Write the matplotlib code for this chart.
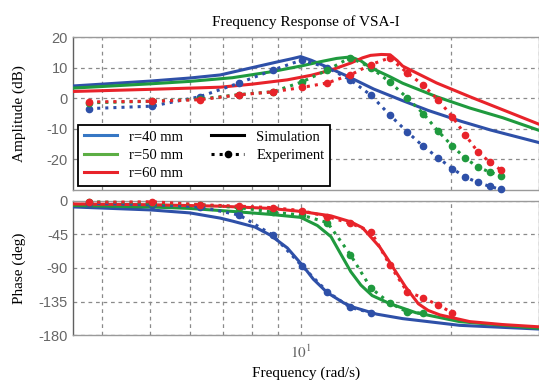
import matplotlib
matplotlib.use("Agg")
import matplotlib.pyplot as plt
from matplotlib.lines import Line2D
from matplotlib.ticker import FixedLocator, NullFormatter

# frequencies of the measured points (rad/s)
f_exp = [3.77, 5.03, 6.28, 7.54, 8.80, 10.05, 11.31, 12.57, 13.82, 15.08,
         16.34, 17.59, 18.85, 20.11, 21.36, 22.62, 23.88, 25.13]

# simulation, amplitude (dB)
f_sim_amp_40 = [3.5, 5.0, 6.0, 6.9, 8.0, 9.0, 9.6, 10.0, 10.5, 11.0, 12.4, 14.0, 16.0, 18.0, 21.0, 24.0, 30.0]
amp_sim_40 = [4.0, 5.6, 6.6, 7.6, 10.0, 11.9, 12.9, 13.6, 12.4, 11.0, 7.2, 3.0, -0.8, -4.0, -7.6, -10.4, -14.5]
f_sim_amp_50 = [3.5, 5.0, 6.0, 7.3, 8.7, 10.0, 11.0, 11.8, 12.6, 13.2, 13.8, 15.1, 16.0, 18.7, 21.8, 25.4, 30.0]
amp_sim_50 = [3.3, 4.7, 5.5, 6.7, 8.6, 10.5, 12.0, 13.0, 13.5, 12.2, 10.0, 7.0, 4.9, 0.5, -3.2, -6.4, -10.5]
f_sim_amp_60 = [3.5, 5.0, 6.9, 8.0, 9.4, 10.5, 11.5, 12.6, 13.3, 13.8, 14.5, 15.1, 15.6, 16.0, 18.7, 21.8, 25.4, 30.0]
amp_sim_60 = [2.2, 2.9, 3.6, 4.6, 6.0, 7.5, 9.2, 11.5, 13.2, 14.0, 14.3, 14.2, 12.3, 10.5, 5.0, 0.5, -3.8, -8.5]

# experiment, amplitude (dB)
amp_exp_40 = [-3.4, -2.6, 0.5, 5.0, 9.2, 12.5, 10.0, 6.0, 1.0, -5.5,
              -11.0, -15.7, -19.5, -23.0, -25.8, -27.5, -28.8, -29.8]
amp_exp_50 = [-1.5, -1.0, -0.3, 1.2, 2.1, 5.3, 9.2, 13.3, 10.0, 5.3,
              0.1, -5.0, -10.8, -15.6, -19.6, -22.5, -24.1, -25.4]
amp_exp_60 = [-1.2, -1.0, -0.5, 1.1, 2.1, 3.5, 5.0, 7.6, 11.0, 13.2,
              8.3, 4.3, -0.6, -6.0, -12.0, -17.5, -20.8, -23.4]

# simulation, phase (deg)
f_sim_ph_40 = [3.5, 5.0, 6.0, 6.9, 7.3, 8.1, 8.7, 9.4, 10.1, 10.6, 11.3, 12.2, 12.8, 14.2, 16.0, 20.8, 30.0]
ph_sim_40 = [-8, -12, -16, -23, -27, -35, -46, -63, -87, -105, -123, -137, -143, -152, -158, -167, -172]
f_sim_ph_50 = [3.5, 5.0, 6.0, 7.3, 8.7, 10.0, 10.8, 11.5, 12.0, 12.6, 13.2, 13.9, 15.1, 17.0, 20.8, 30.0]
ph_sim_50 = [-6, -8, -10, -14, -18, -22, -33, -48, -70, -95, -113, -127, -138, -150, -162, -171]
f_sim_ph_60 = [3.5, 5.0, 6.9, 8.7, 10.0, 11.5, 12.6, 13.3, 13.8, 14.4, 15.0, 15.5, 16.2, 17.2, 18.0, 19.0, 21.8, 25.4, 30.0]
ph_sim_60 = [-4, -5, -7, -10, -14, -20, -28, -36, -48, -62, -80, -95, -115, -138, -147, -153, -162, -166, -169]

# experiment, phase (deg)
ph_exp_40 = [-3, -5, -8, -19, -46, -87, -122, -143, -150]
ph_exp_50 = [-1, -3, -5, -9, -15, -19, -29, -72, -117, -137, -149, -151]
ph_exp_60 = [-2, -1, -5, -7, -9, -13, -21, -30, -41, -86, -122, -130, -140, -150]

labels = ["r=40 mm", "r=50 mm", "r=60 mm"]
colors = ["#2e50a8", "#1f9a3e", "#e8232a"]
legend_colors = ["#3677c4", "#5cae44", "#e8232a"]

plt.rcParams["font.family"] = "Liberation Serif"
plt.rcParams["mathtext.fontset"] = "stix"
plt.rcParams["axes.unicode_minus"] = False

fig = plt.figure(figsize=(5.39, 3.80), dpi=100)
ax1 = fig.add_axes([0.1354, 0.5, 0.8646, 0.4026])
ax2 = fig.add_axes([0.1354, 0.1184, 0.8646, 0.3527])

amp_sim = [(f_sim_amp_40, amp_sim_40), (f_sim_amp_50, amp_sim_50), (f_sim_amp_60, amp_sim_60)]
amp_exp = [amp_exp_40, amp_exp_50, amp_exp_60]
ph_sim = [(f_sim_ph_40, ph_sim_40), (f_sim_ph_50, ph_sim_50), (f_sim_ph_60, ph_sim_60)]
ph_exp = [ph_exp_40, ph_exp_50, ph_exp_60]

for i in range(3):
    ax1.plot(amp_sim[i][0], amp_sim[i][1], color=colors[i], lw=2.2, zorder=3)
    ax2.plot(ph_sim[i][0], ph_sim[i][1], color=colors[i], lw=2.2, zorder=3)
for i in range(3):
    ax1.plot(f_exp[:len(amp_exp[i])], amp_exp[i], color=colors[i], ls=":", lw=2.2,
             marker="o", ms=4.5, zorder=4, clip_on=False)
    ax2.plot(f_exp[:len(ph_exp[i])], ph_exp[i], color=colors[i], ls=":", lw=2.2,
             marker="o", ms=4.5, zorder=4, clip_on=False)

gray = "#666666"
for ax in (ax1, ax2):
    ax.set_xscale("log")
    ax.set_xlim(3.5, 30)
    ax.xaxis.set_major_locator(FixedLocator([10]))
    ax.xaxis.set_minor_locator(FixedLocator([4, 5, 6, 7, 8, 9, 20, 30]))
    ax.xaxis.set_minor_formatter(NullFormatter())
    ax.grid(True, which="both", color="#8a8a8a", ls=(0, (3, 3)), lw=0.9)
    ax.tick_params(which="both", length=0, colors=gray)
    for s in ax.spines.values():
        s.set_color("#9a9a9a")
        s.set_linewidth(1.0)
    ax.spines["left"].set_color("#606060")

ax1.set_ylim(-30, 20)
ax1.set_yticks([20, 10, 0, -10, -20])
ax1.set_yticklabels(["20", "10", "0", "-10", "-20"], family="Liberation Sans", fontsize=10.5, color=gray)
ax1.set_xticklabels([])
ax1.set_ylabel("Amplitude (dB)", fontsize=11)
ax1.set_title("Frequency Response of VSA-I", fontsize=11, pad=8)

ax2.set_ylim(-180, 0)
ax2.set_yticks([0, -45, -90, -135, -180])
ax2.set_yticklabels(["0", "-45", "-90", "-135", "-180"], family="Liberation Sans", fontsize=10.5, color=gray)
ax2.set_xticklabels([r"$10^1$"], fontsize=11, color=gray)
ax2.tick_params(axis="x", pad=6)
ax2.set_ylabel("Phase (deg)", fontsize=11)
ax2.set_xlabel("Frequency (rad/s)", fontsize=11)
ax1.yaxis.set_label_coords(-0.10, 0.5)
ax2.yaxis.set_label_coords(-0.10, 0.5)

handles = [Line2D([], [], color=c, lw=2.2) for c in legend_colors]
handles += [Line2D([], [], color="black", lw=2.2),
            Line2D([], [], color="black", lw=2.2, ls=":", marker="o", ms=4.5)]
leg = ax1.legend(handles, labels + ["Simulation", "Experiment"], ncol=2,
                 loc="lower left", bbox_to_anchor=(0.0107, 0.026, 0.541, 0.4),
                 mode="expand", borderaxespad=0, fancybox=False, framealpha=1,
                 edgecolor="black", fontsize=10.5, handlelength=2.3,
                 labelspacing=0.35, columnspacing=1.0, numpoints=1)
leg.get_frame().set_linewidth(1.3)
leg.set_zorder(10)

fig.savefig("out.png", dpi=100)
